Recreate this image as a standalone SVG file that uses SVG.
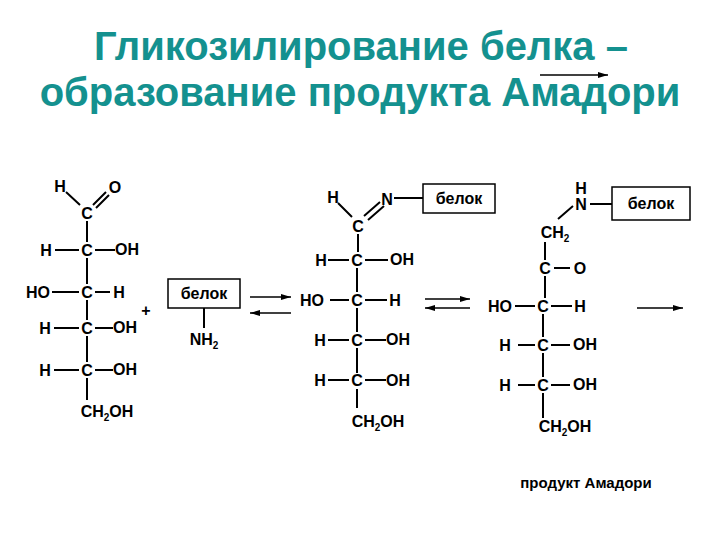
<svg xmlns="http://www.w3.org/2000/svg" width="720" height="540" viewBox="0 0 720 540">
<defs>
<marker id="ah" viewBox="0 0 10 6" refX="10" refY="3" markerWidth="10" markerHeight="6" markerUnits="userSpaceOnUse" orient="auto"><path d="M0,0L10,3L0,6z" fill="#000"/></marker>
</defs>
<style>
.t{font-family:"Liberation Sans",Arial,sans-serif;font-weight:bold;font-size:16px;fill:#000;text-anchor:middle}
.s{font-size:10px}
.ttl{font-family:"Liberation Sans",Arial,sans-serif;font-weight:bold;font-size:40px;fill:#14918f;text-anchor:middle}
.b{stroke:#000;stroke-width:2;fill:none}
.bx{stroke:#000;stroke-width:1.5;fill:#fff}
.ar{stroke:#000;stroke-width:1.5;fill:none;marker-end:url(#ah)}
</style>
<rect width="720" height="540" fill="#fff"/>
<g id="title">
<text class="ttl" x="361" y="60">Гликозилирование белка –</text>
<text class="ttl" x="360" y="106">образование продукта Амадори</text>
</g>
<g id="connectors">
<line class="ar" x1="540" y1="75" x2="608" y2="75"/>
<line class="ar" x1="250" y1="297" x2="291" y2="297"/>
<line class="ar" x1="291" y1="313" x2="250" y2="313"/>
<line class="ar" x1="425" y1="299" x2="470" y2="299"/>
<line class="ar" x1="470" y1="308" x2="425" y2="308"/>
<line class="ar" x1="637" y1="308" x2="683" y2="308"/>
</g>
<g id="glucose">
<path class="b" d="M66,192L80,205M93,205L106,192M96,208L109,195M87,221V242M87,258V284M87,300V320M87,336V362M87,378V400M55,250H79M95,250H115M52,292H79M95,292H110M54,328H79M95,328H113M54,370H79M95,370H113"/>
<text class="t" x="60" y="192">H</text><text class="t" x="115" y="193">O</text>
<text class="t" x="87" y="219">C</text>
<text class="t" x="46" y="256">H</text><text class="t" x="87" y="256">C</text><text class="t" x="127" y="255">OH</text>
<text class="t" x="38" y="298">HO</text><text class="t" x="87" y="298">C</text><text class="t" x="119" y="298">H</text>
<text class="t" x="45" y="334">H</text><text class="t" x="87" y="334">C</text><text class="t" x="125" y="333">OH</text>
<text class="t" x="45" y="376">H</text><text class="t" x="87" y="376">C</text><text class="t" x="125" y="375">OH</text>
<text class="t" x="107" y="417">CH<tspan class="s" dy="4">2</tspan><tspan dy="-4">OH</tspan></text>
</g>
<g id="plus"><text class="t" x="146" y="316">+</text></g>
<g id="protein1">
<rect class="bx" x="168" y="279" width="72" height="29"/>
<text class="t" x="204" y="299">белок</text>
<line class="b" x1="204" y1="308" x2="204" y2="328"/>
<text class="t" x="204" y="345">NH<tspan class="s" dy="4">2</tspan></text>
</g>
<g id="schiff">
<path class="b" d="M338,203L352,217M364,216L380,202M368,220L384,206M394,198H423M358,234V252M357,268V292M357,308V332M357,348V373M357,389V408M328,260H349M365,260H388M330,300H349M365,300H387M328,340H349M365,340H386M328,380H349M365,380H386"/>
<rect class="bx" x="423" y="184" width="72" height="29"/>
<text class="t" x="459" y="204">белок</text>
<text class="t" x="333" y="203">H</text><text class="t" x="387" y="205">N</text>
<text class="t" x="358" y="232">C</text>
<text class="t" x="321" y="266">H</text><text class="t" x="357" y="266">C</text><text class="t" x="402" y="265">OH</text>
<text class="t" x="312" y="306">HO</text><text class="t" x="357" y="306">C</text><text class="t" x="395" y="306">H</text>
<text class="t" x="320" y="346">H</text><text class="t" x="357" y="346">C</text><text class="t" x="398" y="345">OH</text>
<text class="t" x="320" y="386">H</text><text class="t" x="357" y="386">C</text><text class="t" x="398" y="386">OH</text>
<text class="t" x="378" y="427">CH<tspan class="s" dy="4">2</tspan><tspan dy="-4">OH</tspan></text>
</g>
<g id="amadori">
<path class="b" d="M590,204H612M573,206L558,219M545,242V260M545,276V298M543,314V337M543,353V377M543,393V418M554,268H570M515,306H535M551,306H572M518,345H535M551,345H570M518,385H535M551,385H570"/>
<rect class="bx" x="612" y="187" width="78" height="33"/>
<text class="t" x="651" y="209">белок</text>
<text class="t" x="581" y="194">H</text><text class="t" x="581" y="210">N</text>
<text class="t" x="555" y="238">CH<tspan class="s" dy="4">2</tspan></text>
<text class="t" x="545" y="274">C</text><text class="t" x="580" y="274">O</text>
<text class="t" x="500" y="312">HO</text><text class="t" x="543" y="312">C</text><text class="t" x="580" y="312">H</text>
<text class="t" x="505" y="351">H</text><text class="t" x="543" y="351">C</text><text class="t" x="585" y="350">OH</text>
<text class="t" x="505" y="391">H</text><text class="t" x="543" y="391">C</text><text class="t" x="585" y="390">OH</text>
<text class="t" x="565" y="432">CH<tspan class="s" dy="4">2</tspan><tspan dy="-4">OH</tspan></text>
<text class="t" x="586" y="488" style="font-size:15px">продукт Амадори</text>
</g>
</svg>
